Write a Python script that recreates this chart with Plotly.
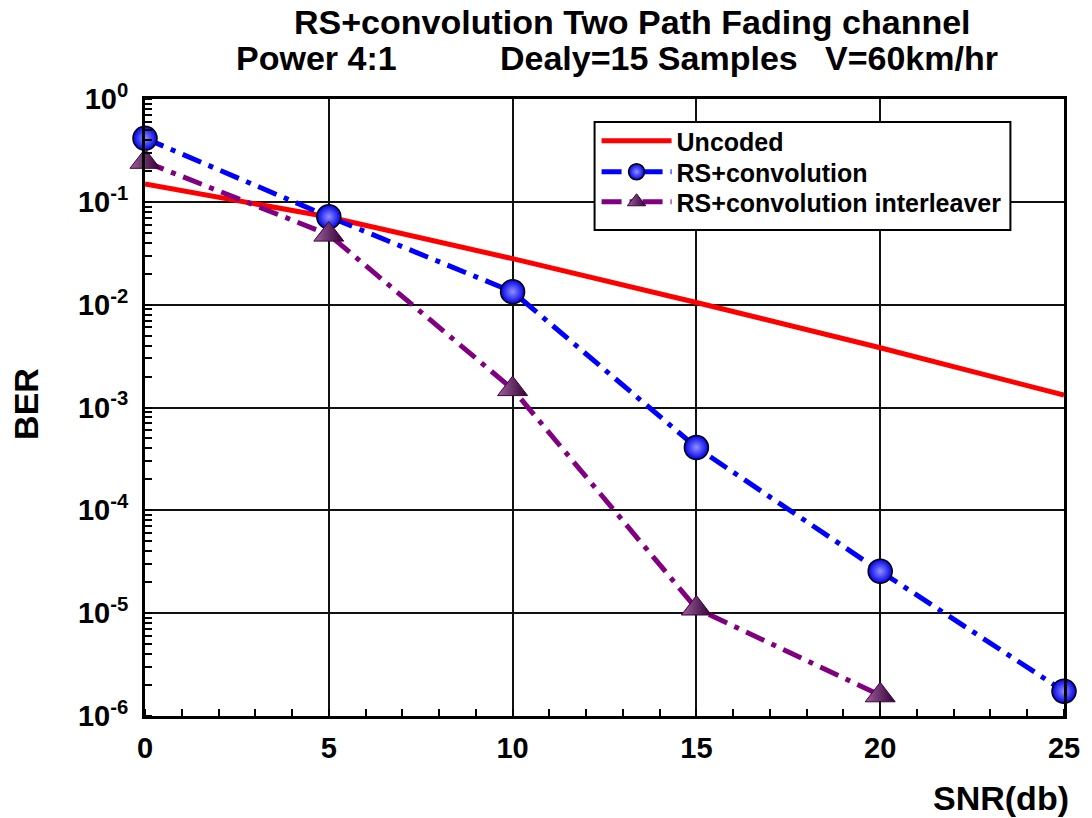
import plotly.graph_objects as go

snr = [0, 5, 10, 15, 20, 25]
uncoded = [0.149, 0.0711, 0.028, 0.0105, 0.00381, 0.00132]
rs_conv = [0.415, 0.0716, 0.01336, 4.09e-4, 2.56e-5, 1.74e-6]
snr_int = [0, 5, 10, 15, 20]
rs_conv_int = [0.245, 0.048, 1.51e-3, 1.11e-5, 1.59e-6]

ytick_vals = [1, 1e-1, 1e-2, 1e-3, 1e-4, 1e-5, 1e-6]
ytick_text = ["10<sup>0</sup>", "10<sup>-1</sup>", "10<sup>-2</sup>", "10<sup>-3</sup>",
              "10<sup>-4</sup>", "10<sup>-5</sup>", "10<sup>-6</sup>"]
xtick_vals = [0, 5, 10, 15, 20, 25]

FONT = "Liberation Sans, Arial, sans-serif"
L, R, T, B = 145, 1071, 99, 716
W, H = R - L, B - T


def px2paper(px, py):
    return (px - L) / W, (B - py) / H


fig = go.Figure()
fig.add_trace(go.Scatter(
    x=snr, y=uncoded, mode="lines", name="Uncoded", legend="legend",
    line=dict(color="#ff0000", width=5), cliponaxis=False))
fig.add_trace(go.Scatter(
    x=snr, y=rs_conv, mode="lines+markers", name="RS+convolution", legend="legend2",
    line=dict(color="#0000ff", width=5, dash="20px,8px,5px,8px"),
    marker=dict(symbol="circle", size=24, color="#0000e8",
                gradient=dict(type="radial", color="#9090ff"),
                line=dict(color="black", width=1.5)),
    cliponaxis=False))
fig.add_trace(go.Scatter(
    x=snr_int, y=rs_conv_int, mode="lines+markers", name="RS+convolution interleaver",
    legend="legend3",
    line=dict(color="#800080", width=5, dash="20px,8px,5px,8px"),
    marker=dict(symbol="triangle-up", size=26, color="#a060a0",
                gradient=dict(type="horizontal", color="#300030"),
                line=dict(color="#400040", width=1)),
    cliponaxis=False))

leg_common = dict(xanchor="left", yanchor="middle", bgcolor="rgba(0,0,0,0)",
                  borderwidth=0, font=dict(size=25, family=FONT, weight="bold", color="black"),
                  itemwidth=70)
lx, _ = px2paper(600, 0)
legends = {}
for key, ypx in [("legend", 141), ("legend2", 172), ("legend3", 202)]:
    _, ly = px2paper(0, ypx)
    legends[key] = dict(x=lx, y=ly, **leg_common)

anns = []
for txt, cx, cy, size in [("RS+convolution Two Path Fading channel", 636, 22, 34),
                          ("Power 4:1", 318, 58, 34),
                          ("Dealy=15 Samples", 653, 58, 34),
                          ("V=60km/hr", 917, 58, 34)]:
    x, y = px2paper(cx, cy)
    anns.append(dict(text=txt, x=x, y=y, xref="paper", yref="paper", showarrow=False,
                     xanchor="center", yanchor="middle",
                     font=dict(size=size, family=FONT, weight="bold", color="black")))
x, y = px2paper(25, 404)
anns.append(dict(text="BER", x=x, y=y, xref="paper", yref="paper", showarrow=False,
                 textangle=-90, xanchor="center", yanchor="middle",
                 font=dict(size=34, family=FONT, weight="bold", color="black")))
x, y = px2paper(1078, 798)
anns.append(dict(text="SNR(db)", x=x, y=y, xref="paper", yref="paper", showarrow=False,
                 xanchor="right", yanchor="middle",
                 font=dict(size=34, family=FONT, weight="bold", color="black")))

bx0, by0 = px2paper(598, 230)
bx1, by1 = px2paper(1017, 122)

fig.update_layout(
    width=1092, height=818,
    margin=dict(l=L, r=1092 - R, t=T, b=818 - B),
    paper_bgcolor="white", plot_bgcolor="white",
    font=dict(family=FONT, color="black", weight="bold"),
    showlegend=True,
    legend=legends["legend"], legend2=legends["legend2"], legend3=legends["legend3"],
    xaxis=dict(range=[0, 25], tickvals=xtick_vals, ticktext=[str(v) for v in xtick_vals],
               showgrid=True, gridcolor="#111", gridwidth=2,
               showline=True, linecolor="black", linewidth=3, mirror=True,
               ticks="", tickfont=dict(size=29, weight="bold"), ticklabelstandoff=4,
               minor=dict(dtick=1, ticks="inside", ticklen=7, tickcolor="black",
                          tickwidth=2, showgrid=False),
               zeroline=False),
    yaxis=dict(type="log", range=[-6, 0], tickvals=ytick_vals, ticktext=ytick_text,
               showgrid=True, gridcolor="#111", gridwidth=2,
               showline=True, linecolor="black", linewidth=3, mirror=True,
               ticks="", tickfont=dict(size=29, weight="bold"), ticklabelstandoff=8,
               minor=dict(dtick="D1", ticks="inside", ticklen=7, tickcolor="black",
                          tickwidth=2, showgrid=False),
               zeroline=False),
    annotations=anns,
    shapes=[dict(type="rect", xref="paper", yref="paper", x0=bx0, y0=by0, x1=bx1, y1=by1,
                 fillcolor="white", line=dict(color="black", width=2), layer="above")],
)

fig.write_html("out.html")
